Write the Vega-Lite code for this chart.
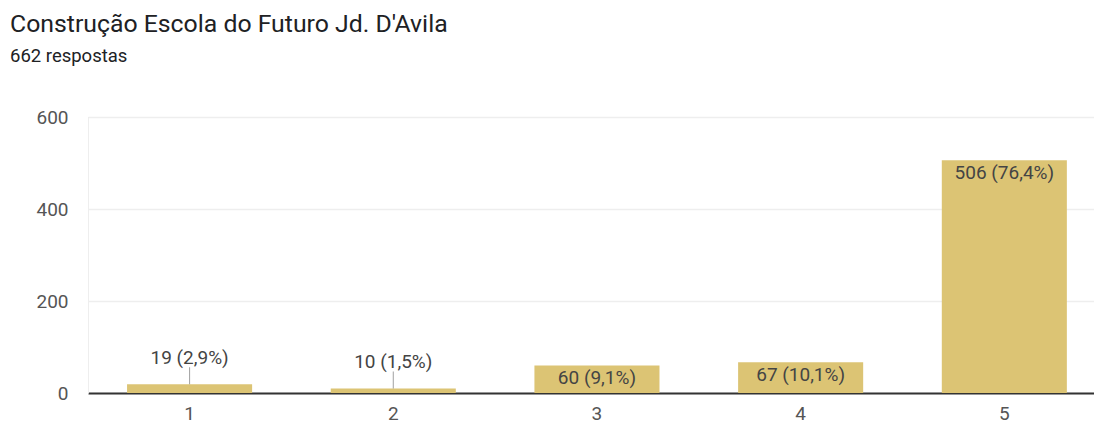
{
  "$schema": "https://vega.github.io/schema/vega-lite/v6.json",
  "autosize": {"type": "none"},
  "padding": {"left": 88, "top": 117, "right": 0, "bottom": 30},
  "width": 1006,
  "height": 276,
  "background": "white",
  "title": {
    "text": "Construção Escola do Futuro Jd. D'Avila",
    "subtitle": "662 respostas",
    "anchor": "start",
    "frame": "group",
    "dx": -78,
    "font": "Roboto",
    "fontSize": 24.8,
    "fontWeight": "normal",
    "color": "#202124",
    "subtitleFont": "Roboto",
    "subtitleFontSize": 18.5,
    "subtitleColor": "#202124",
    "subtitlePadding": 11,
    "offset": 42
  },
  "data": {
    "values": [
      {"option": "1", "count": 19, "label": "19 (2,9%)"},
      {"option": "2", "count": 10, "label": "10 (1,5%)"},
      {"option": "3", "count": 60, "label": "60 (9,1%)"},
      {"option": "4", "count": 67, "label": "67 (10,1%)"},
      {"option": "5", "count": 506, "label": "506 (76,4%)"}
    ]
  },
  "encoding": {
    "x": {
      "field": "option",
      "type": "ordinal",
      "scale": {"paddingInner": 0.386, "paddingOuter": 0.1625, "align": 0.59},
      "axis": {
        "title": null,
        "labelAngle": 0,
        "labelFont": "Roboto",
        "labelFontSize": 19,
        "labelColor": "#555",
        "labelPadding": 11,
        "ticks": false,
        "domainColor": "#333",
        "domainWidth": 2,
        "grid": false
      }
    },
    "y": {
      "field": "count",
      "type": "quantitative",
      "scale": {"domain": [0, 600], "nice": false},
      "axis": {
        "title": null,
        "values": [0, 200, 400, 600],
        "labelFont": "Roboto",
        "labelFontSize": 19,
        "labelColor": "#555",
        "labelPadding": 20,
        "ticks": false,
        "domain": true,
        "domainColor": "#eeeeee",
        "gridColor": "#eeeeee",
        "gridWidth": 1.5
      }
    }
  },
  "layer": [
    {"mark": {"type": "bar", "color": "#dcc474"}},
    {
      "transform": [{"filter": "datum.count < 30"}],
      "mark": {"type": "tick", "orient": "vertical", "color": "#777", "size": 17, "thickness": 1, "yOffset": -8.5}
    },
    {
      "transform": [{"filter": "datum.count < 30"}],
      "mark": {"type": "text", "font": "Roboto", "fontSize": 19, "color": "#444", "baseline": "middle", "dy": -26},
      "encoding": {"text": {"field": "label"}}
    },
    {
      "transform": [{"filter": "datum.count >= 30"}],
      "mark": {"type": "text", "font": "Roboto", "fontSize": 19, "color": "#444", "baseline": "middle", "dy": 13},
      "encoding": {"text": {"field": "label"}}
    }
  ]
}
